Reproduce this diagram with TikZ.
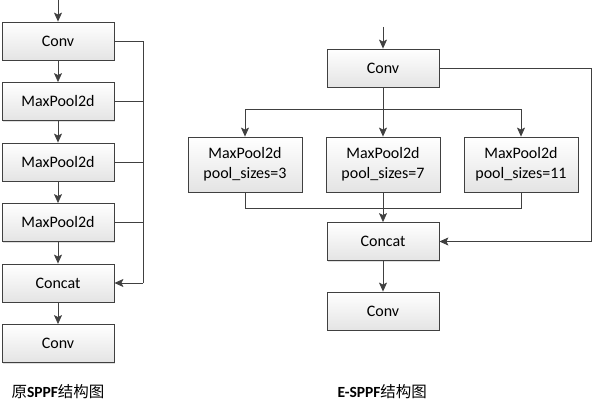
\documentclass[tikz,border=0pt]{standalone}
\usepackage{fontspec}
\setmainfont{Carlito}
\newfontfamily\cjk{Noto Sans CJK SC}
\usetikzlibrary{arrows.meta,shadows}

\definecolor{linegray}{HTML}{404040}
\definecolor{boxbottom}{HTML}{E4E4E4}

\tikzset{
    blockbox/.style={draw=linegray, line width=0.8pt, top color=white, bottom color=boxbottom,
        minimum width=112pt, minimum height=38pt, inner sep=0pt, align=center,
        font=\fontsize{16}{20}\selectfont,
        drop shadow={shadow xshift=1.2pt, shadow yshift=-1.2pt, opacity=0.25, fill=gray}},
    poolbox/.style={blockbox, minimum width=114pt, minimum height=55pt},
    flow/.style={draw=linegray, line width=0.8pt, -{Stealth[length=9pt, width=8pt, inset=2pt]}},
    wire/.style={draw=linegray, line width=0.8pt},
    caption/.style={font=\fontsize{15.5}{18}\selectfont, anchor=west}
}

\begin{document}
\begin{tikzpicture}[x=1pt, y=-1pt]

    % Canvas of the reference size
    \useasboundingbox (0,0) rectangle (593,403);

    % Original SPPF: column of blocks
    \coordinate (inA) at (58,0);
    \node[blockbox] (convA)  at (58,41)    {Conv};
    \node[blockbox] (poolA1) at (58,101.5) {MaxPool2d};
    \node[blockbox] (poolA2) at (58,162)   {MaxPool2d};
    \node[blockbox] (poolA3) at (58,222.5) {MaxPool2d};
    \node[blockbox] (catA)   at (58,283)   {Concat};
    \node[blockbox] (outA)   at (58,343.5) {Conv};

    % Arrows down the column
    \draw[flow] (inA) -- (convA);
    \draw[flow] (convA) -- (poolA1);
    \draw[flow] (poolA1) -- (poolA2);
    \draw[flow] (poolA2) -- (poolA3);
    \draw[flow] (poolA3) -- (catA);
    \draw[flow] (catA) -- (outA);

    % Side bus into Concat
    \coordinate (busA) at (143,0);
    \draw[wire] (convA.east) -| (busA |- catA.east);
    \draw[wire] (poolA1.east) -- (busA |- poolA1.east);
    \draw[wire] (poolA2.east) -- (busA |- poolA2.east);
    \draw[wire] (poolA3.east) -- (busA |- poolA3.east);
    \draw[flow] (busA |- catA.east) -- (catA.east);

    % Caption of the original SPPF
    \node[caption] (capA) at (8,392) {{\cjk 原}\textbf{SPPF}{\cjk 结构图}};

    % E-SPPF: Conv on top
    \coordinate (inB) at (383,27);
    \node[blockbox] (convB) at (383,68) {Conv};

    % Three parallel pooling blocks
    \node[poolbox] (poolB1) at (245,164.5) {MaxPool2d\\pool\_sizes=3};
    \node[poolbox] (poolB2) at (383,164.5) {MaxPool2d\\pool\_sizes=7};
    \node[poolbox] (poolB3) at (521,164.5) {MaxPool2d\\pool\_sizes=11};

    % Concat and last Conv
    \node[blockbox] (catB) at (383,241.5) {Concat};
    \node[blockbox] (outB) at (383,311)   {Conv};

    % Split from Conv to the pools
    \coordinate (splitB) at (383,109);
    \draw[flow] (inB) -- (convB);
    \draw[wire] (convB) -- (splitB);
    \draw[flow] (splitB) -| (poolB1);
    \draw[flow] (splitB) -| (poolB3);
    \draw[flow] (splitB) -- (poolB2);

    % Merge from the pools into Concat
    \coordinate (mergeB) at (383,208);
    \draw[wire] (poolB1) |- (mergeB);
    \draw[wire] (poolB3) |- (mergeB);
    \draw[flow] (poolB2) -- (catB);

    % Shortcut from Conv to Concat
    \coordinate (busB) at (591,0);
    \draw[flow] (convB.east) -| (busB |- catB.east) -- (catB.east);

    % Concat to Conv
    \draw[flow] (catB) -- (outB);

    % Caption of E-SPPF
    \node[caption] (capB) at (334,392) {\textbf{E-SPPF}{\cjk 结构图}};

\end{tikzpicture}
\end{document}
